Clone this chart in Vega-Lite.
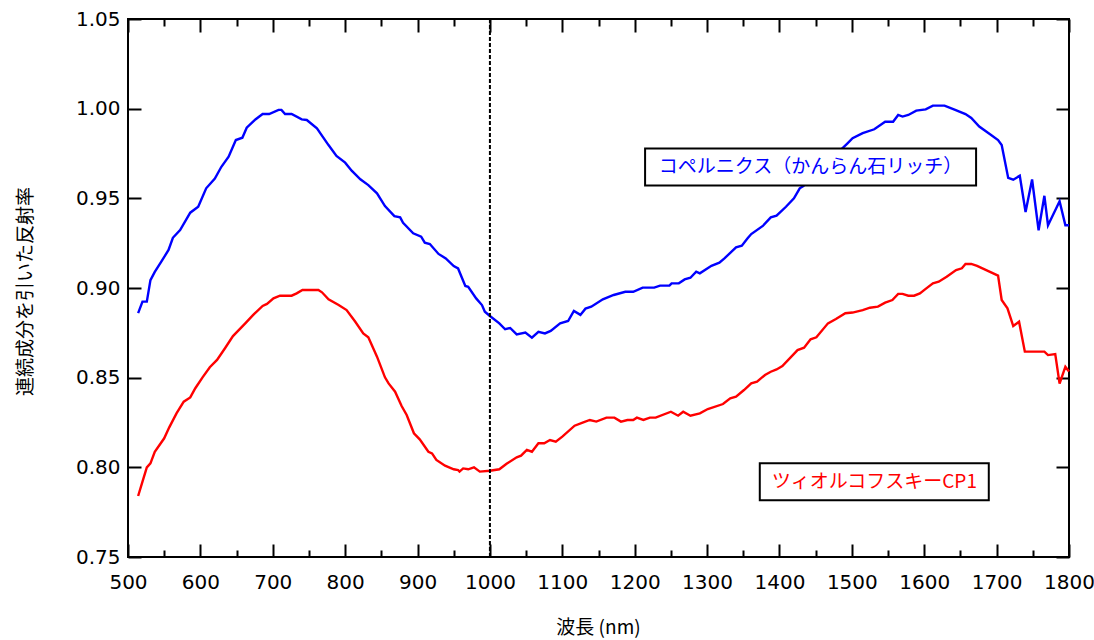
{
  "$schema": "https://vega.github.io/schema/vega-lite/v6.json",
  "width": 941,
  "height": 538,
  "autosize": {"type": "none"},
  "padding": {"left": 128, "top": 19, "right": 25, "bottom": 83},
  "background": "white",
  "config": {
    "view": {"stroke": "black", "strokeWidth": 2},
    "axis": {
      "labelColor": "black", "labelFont": "DejaVu Sans", "labelFontSize": 20,
      "titleFont": "Noto Sans CJK JP", "titleFontSize": 19, "titleFontWeight": "normal", "titleColor": "black",
      "labelFlush": false, "labelOverlap": false, "labelBound": false
    }
  },
  "datasets": {
    "spectra": [
      {"series": "コペルニクス（かんらん石リッチ）", "wl": 514, "r": 0.886},
      {"series": "コペルニクス（かんらん石リッチ）", "wl": 520, "r": 0.8924},
      {"series": "コペルニクス（かんらん石リッチ）", "wl": 526, "r": 0.8924},
      {"series": "コペルニクス（かんらん石リッチ）", "wl": 531, "r": 0.9044},
      {"series": "コペルニクス（かんらん石リッチ）", "wl": 537, "r": 0.909},
      {"series": "コペルニクス（かんらん石リッチ）", "wl": 546, "r": 0.9147},
      {"series": "コペルニクス（かんらん石リッチ）", "wl": 556, "r": 0.9212},
      {"series": "コペルニクス（かんらん石リッチ）", "wl": 562, "r": 0.928},
      {"series": "コペルニクス（かんらん石リッチ）", "wl": 572, "r": 0.9323},
      {"series": "コペルニクス（かんらん石リッチ）", "wl": 586, "r": 0.942},
      {"series": "コペルニクス（かんらん石リッチ）", "wl": 597, "r": 0.9453},
      {"series": "コペルニクス（かんらん石リッチ）", "wl": 608, "r": 0.9556},
      {"series": "コペルニクス（かんらん石リッチ）", "wl": 620, "r": 0.961},
      {"series": "コペルニクス（かんらん石リッチ）", "wl": 629, "r": 0.9676},
      {"series": "コペルニクス（かんらん石リッチ）", "wl": 639, "r": 0.9732},
      {"series": "コペルニクス（かんらん石リッチ）", "wl": 649, "r": 0.9825},
      {"series": "コペルニクス（かんらん石リッチ）", "wl": 658, "r": 0.9838},
      {"series": "コペルニクス（かんらん石リッチ）", "wl": 664, "r": 0.9894},
      {"series": "コペルニクス（かんらん石リッチ）", "wl": 676, "r": 0.994},
      {"series": "コペルニクス（かんらん石リッチ）", "wl": 686, "r": 0.997},
      {"series": "コペルニクス（かんらん石リッチ）", "wl": 695, "r": 0.997},
      {"series": "コペルニクス（かんらん石リッチ）", "wl": 708, "r": 0.9993},
      {"series": "コペルニクス（かんらん石リッチ）", "wl": 712, "r": 0.9993},
      {"series": "コペルニクス（かんらん石リッチ）", "wl": 717, "r": 0.997},
      {"series": "コペルニクス（かんらん石リッチ）", "wl": 726, "r": 0.997},
      {"series": "コペルニクス（かんらん石リッチ）", "wl": 740, "r": 0.994},
      {"series": "コペルニクス（かんらん石リッチ）", "wl": 747, "r": 0.9937},
      {"series": "コペルニクス（かんらん石リッチ）", "wl": 761, "r": 0.989},
      {"series": "コペルニクス（かんらん石リッチ）", "wl": 777, "r": 0.9797},
      {"series": "コペルニクス（かんらん石リッチ）", "wl": 788, "r": 0.9736},
      {"series": "コペルニクス（かんらん石リッチ）", "wl": 800, "r": 0.9699},
      {"series": "コペルニクス（かんらん石リッチ）", "wl": 809, "r": 0.9654},
      {"series": "コペルニクス（かんらん石リッチ）", "wl": 821, "r": 0.9606},
      {"series": "コペルニクス（かんらん石リッチ）", "wl": 832, "r": 0.9574},
      {"series": "コペルニクス（かんらん石リッチ）", "wl": 844, "r": 0.9528},
      {"series": "コペルニクス（かんらん石リッチ）", "wl": 855, "r": 0.9457},
      {"series": "コペルニクス（かんらん石リッチ）", "wl": 868, "r": 0.9401},
      {"series": "コペルニクス（かんらん石リッチ）", "wl": 876, "r": 0.9394},
      {"series": "コペルニクス（かんらん石リッチ）", "wl": 880, "r": 0.9364},
      {"series": "コペルニクス（かんらん石リッチ）", "wl": 894, "r": 0.9305},
      {"series": "コペルニクス（かんらん石リッチ）", "wl": 905, "r": 0.9286},
      {"series": "コペルニクス（かんらん石リッチ）", "wl": 910, "r": 0.9253},
      {"series": "コペルニクス（かんらん石リッチ）", "wl": 917, "r": 0.9245},
      {"series": "コペルニクス（かんらん石リッチ）", "wl": 929, "r": 0.919},
      {"series": "コペルニクス（かんらん石リッチ）", "wl": 939, "r": 0.9165},
      {"series": "コペルニクス（かんらん石リッチ）", "wl": 950, "r": 0.9122},
      {"series": "コペルニクス（かんらん石リッチ）", "wl": 956, "r": 0.9109},
      {"series": "コペルニクス（かんらん石リッチ）", "wl": 966, "r": 0.9011},
      {"series": "コペルニクス（かんらん石リッチ）", "wl": 970, "r": 0.9007},
      {"series": "コペルニクス（かんらん石リッチ）", "wl": 981, "r": 0.8942},
      {"series": "コペルニクス（かんらん石リッチ）", "wl": 989, "r": 0.8905},
      {"series": "コペルニクス（かんらん石リッチ）", "wl": 993, "r": 0.8868},
      {"series": "コペルニクス（かんらん石リッチ）", "wl": 1000, "r": 0.8844},
      {"series": "コペルニクス（かんらん石リッチ）", "wl": 1013, "r": 0.8803},
      {"series": "コペルニクス（かんらん石リッチ）", "wl": 1021, "r": 0.877},
      {"series": "コペルニクス（かんらん石リッチ）", "wl": 1028, "r": 0.8777},
      {"series": "コペルニクス（かんらん石リッチ）", "wl": 1037, "r": 0.8741},
      {"series": "コペルニクス（かんらん石リッチ）", "wl": 1049, "r": 0.8751},
      {"series": "コペルニクス（かんらん石リッチ）", "wl": 1058, "r": 0.8723},
      {"series": "コペルニクス（かんらん石リッチ）", "wl": 1067, "r": 0.8756},
      {"series": "コペルニクス（かんらん石リッチ）", "wl": 1076, "r": 0.8747},
      {"series": "コペルニクス（かんらん石リッチ）", "wl": 1084, "r": 0.8761},
      {"series": "コペルニクス（かんらん石リッチ）", "wl": 1097, "r": 0.8803},
      {"series": "コペルニクス（かんらん石リッチ）", "wl": 1108, "r": 0.8816},
      {"series": "コペルニクス（かんらん石リッチ）", "wl": 1116, "r": 0.8872},
      {"series": "コペルニクス（かんらん石リッチ）", "wl": 1125, "r": 0.885},
      {"series": "コペルニクス（かんらん石リッチ）", "wl": 1132, "r": 0.8885},
      {"series": "コペルニクス（かんらん石リッチ）", "wl": 1140, "r": 0.8896},
      {"series": "コペルニクス（かんらん石リッチ）", "wl": 1156, "r": 0.8937},
      {"series": "コペルニクス（かんらん石リッチ）", "wl": 1171, "r": 0.8961},
      {"series": "コペルニクス（かんらん石リッチ）", "wl": 1187, "r": 0.8979},
      {"series": "コペルニクス（かんらん石リッチ）", "wl": 1198, "r": 0.8979},
      {"series": "コペルニクス（かんらん石リッチ）", "wl": 1211, "r": 0.9002},
      {"series": "コペルニクス（かんらん石リッチ）", "wl": 1227, "r": 0.9002},
      {"series": "コペルニクス（かんらん石リッチ）", "wl": 1235, "r": 0.9013},
      {"series": "コペルニクス（かんらん石リッチ）", "wl": 1248, "r": 0.9013},
      {"series": "コペルニクス（かんらん石リッチ）", "wl": 1251, "r": 0.9026},
      {"series": "コペルニクス（かんらん石リッチ）", "wl": 1261, "r": 0.9026},
      {"series": "コペルニクス（かんらん石リッチ）", "wl": 1269, "r": 0.9048},
      {"series": "コペルニクス（かんらん石リッチ）", "wl": 1277, "r": 0.9057},
      {"series": "コペルニクス（かんらん石リッチ）", "wl": 1285, "r": 0.9091},
      {"series": "コペルニクス（かんらん石リッチ）", "wl": 1290, "r": 0.9082},
      {"series": "コペルニクス（かんらん石リッチ）", "wl": 1306, "r": 0.9124},
      {"series": "コペルニクス（かんらん石リッチ）", "wl": 1317, "r": 0.9141},
      {"series": "コペルニクス（かんらん石リッチ）", "wl": 1324, "r": 0.9165},
      {"series": "コペルニクス（かんらん石リッチ）", "wl": 1340, "r": 0.9227},
      {"series": "コペルニクス（かんらん石リッチ）", "wl": 1348, "r": 0.9236},
      {"series": "コペルニクス（かんらん石リッチ）", "wl": 1356, "r": 0.9277},
      {"series": "コペルニクス（かんらん石リッチ）", "wl": 1361, "r": 0.9301},
      {"series": "コペルニクス（かんらん石リッチ）", "wl": 1377, "r": 0.9346},
      {"series": "コペルニクス（かんらん石リッチ）", "wl": 1388, "r": 0.9394},
      {"series": "コペルニクス（かんらん石リッチ）", "wl": 1396, "r": 0.9403},
      {"series": "コペルニクス（かんらん石リッチ）", "wl": 1409, "r": 0.9453},
      {"series": "コペルニクス（かんらん石リッチ）", "wl": 1420, "r": 0.95},
      {"series": "コペルニクス（かんらん石リッチ）", "wl": 1428, "r": 0.9556},
      {"series": "コペルニクス（かんらん石リッチ）", "wl": 1433, "r": 0.9569},
      {"series": "コペルニクス（かんらん石リッチ）", "wl": 1494, "r": 0.9807},
      {"series": "コペルニクス（かんらん石リッチ）", "wl": 1501, "r": 0.9835},
      {"series": "コペルニクス（かんらん石リッチ）", "wl": 1515, "r": 0.9863},
      {"series": "コペルニクス（かんらん石リッチ）", "wl": 1531, "r": 0.9885},
      {"series": "コペルニクス（かんらん石リッチ）", "wl": 1546, "r": 0.9927},
      {"series": "コペルニクス（かんらん石リッチ）", "wl": 1557, "r": 0.9927},
      {"series": "コペルニクス（かんらん石リッチ）", "wl": 1564, "r": 0.9965},
      {"series": "コペルニクス（かんらん石リッチ）", "wl": 1570, "r": 0.9956},
      {"series": "コペルニクス（かんらん石リッチ）", "wl": 1578, "r": 0.9965},
      {"series": "コペルニクス（かんらん石リッチ）", "wl": 1589, "r": 0.9989},
      {"series": "コペルニクス（かんらん石リッチ）", "wl": 1602, "r": 0.9996},
      {"series": "コペルニクス（かんらん石リッチ）", "wl": 1612, "r": 1.0017},
      {"series": "コペルニクス（かんらん石リッチ）", "wl": 1628, "r": 1.0017},
      {"series": "コペルニクス（かんらん石リッチ）", "wl": 1641, "r": 0.9996},
      {"series": "コペルニクス（かんらん石リッチ）", "wl": 1657, "r": 0.997},
      {"series": "コペルニクス（かんらん石リッチ）", "wl": 1665, "r": 0.9948},
      {"series": "コペルニクス（かんらん石リッチ）", "wl": 1676, "r": 0.99},
      {"series": "コペルニクス（かんらん石リッチ）", "wl": 1689, "r": 0.9863},
      {"series": "コペルニクス（かんらん石リッチ）", "wl": 1702, "r": 0.9825},
      {"series": "コペルニクス（かんらん石リッチ）", "wl": 1707, "r": 0.9797},
      {"series": "コペルニクス（かんらん石リッチ）", "wl": 1716, "r": 0.9614},
      {"series": "コペルニクス（かんらん石リッチ）", "wl": 1723, "r": 0.9604},
      {"series": "コペルニクス（かんらん石リッチ）", "wl": 1732, "r": 0.9626},
      {"series": "コペルニクス（かんらん石リッチ）", "wl": 1740, "r": 0.9424},
      {"series": "コペルニクス（かんらん石リッチ）", "wl": 1749, "r": 0.9605},
      {"series": "コペルニクス（かんらん石リッチ）", "wl": 1758, "r": 0.9322},
      {"series": "コペルニクス（かんらん石リッチ）", "wl": 1766, "r": 0.9514},
      {"series": "コペルニクス（かんらん石リッチ）", "wl": 1771, "r": 0.935},
      {"series": "コペルニクス（かんらん石リッチ）", "wl": 1787, "r": 0.9484},
      {"series": "コペルニクス（かんらん石リッチ）", "wl": 1795, "r": 0.935},
      {"series": "コペルニクス（かんらん石リッチ）", "wl": 1800, "r": 0.935},
      {"series": "ツィオルコフスキーCP1", "wl": 514, "r": 0.784},
      {"series": "ツィオルコフスキーCP1", "wl": 520, "r": 0.792},
      {"series": "ツィオルコフスキーCP1", "wl": 526, "r": 0.8},
      {"series": "ツィオルコフスキーCP1", "wl": 531, "r": 0.8022},
      {"series": "ツィオルコフスキーCP1", "wl": 537, "r": 0.8087},
      {"series": "ツィオルコフスキーCP1", "wl": 550, "r": 0.8162},
      {"series": "ツィオルコフスキーCP1", "wl": 557, "r": 0.8223},
      {"series": "ツィオルコフスキーCP1", "wl": 567, "r": 0.8301},
      {"series": "ツィオルコフスキーCP1", "wl": 577, "r": 0.8366},
      {"series": "ツィオルコフスキーCP1", "wl": 586, "r": 0.839},
      {"series": "ツィオルコフスキーCP1", "wl": 593, "r": 0.8441},
      {"series": "ツィオルコフスキーCP1", "wl": 603, "r": 0.8502},
      {"series": "ツィオルコフスキーCP1", "wl": 613, "r": 0.8558},
      {"series": "ツィオルコフスキーCP1", "wl": 623, "r": 0.8599},
      {"series": "ツィオルコフスキーCP1", "wl": 634, "r": 0.8664},
      {"series": "ツィオルコフスキーCP1", "wl": 645, "r": 0.8732},
      {"series": "ツィオルコフスキーCP1", "wl": 662, "r": 0.8803},
      {"series": "ツィオルコフスキーCP1", "wl": 673, "r": 0.885},
      {"series": "ツィオルコフスキーCP1", "wl": 686, "r": 0.89},
      {"series": "ツィオルコフスキーCP1", "wl": 692, "r": 0.8911},
      {"series": "ツィオルコフスキーCP1", "wl": 701, "r": 0.8942},
      {"series": "ツィオルコフスキーCP1", "wl": 710, "r": 0.8957},
      {"series": "ツィオルコフスキーCP1", "wl": 726, "r": 0.8957},
      {"series": "ツィオルコフスキーCP1", "wl": 733, "r": 0.897},
      {"series": "ツィオルコフスキーCP1", "wl": 741, "r": 0.8989},
      {"series": "ツィオルコフスキーCP1", "wl": 763, "r": 0.8989},
      {"series": "ツィオルコフスキーCP1", "wl": 768, "r": 0.8976},
      {"series": "ツィオルコフスキーCP1", "wl": 777, "r": 0.8937},
      {"series": "ツィオルコフスキーCP1", "wl": 791, "r": 0.8905},
      {"series": "ツィオルコフスキーCP1", "wl": 802, "r": 0.8877},
      {"series": "ツィオルコフスキーCP1", "wl": 814, "r": 0.8812},
      {"series": "ツィオルコフスキーCP1", "wl": 825, "r": 0.8747},
      {"series": "ツィオルコフスキーCP1", "wl": 832, "r": 0.8725},
      {"series": "ツィオルコフスキーCP1", "wl": 844, "r": 0.8617},
      {"series": "ツィオルコフスキーCP1", "wl": 855, "r": 0.8502},
      {"series": "ツィオルコフスキーCP1", "wl": 860, "r": 0.8468},
      {"series": "ツィオルコフスキーCP1", "wl": 869, "r": 0.8422},
      {"series": "ツィオルコフスキーCP1", "wl": 878, "r": 0.8342},
      {"series": "ツィオルコフスキーCP1", "wl": 885, "r": 0.8292},
      {"series": "ツィオルコフスキーCP1", "wl": 895, "r": 0.819},
      {"series": "ツィオルコフスキーCP1", "wl": 903, "r": 0.8156},
      {"series": "ツィオルコフスキーCP1", "wl": 915, "r": 0.8087},
      {"series": "ツィオルコフスキーCP1", "wl": 920, "r": 0.8078},
      {"series": "ツィオルコフスキーCP1", "wl": 926, "r": 0.8041},
      {"series": "ツィオルコフスキーCP1", "wl": 938, "r": 0.8009},
      {"series": "ツィオルコフスキーCP1", "wl": 950, "r": 0.7989},
      {"series": "ツィオルコフスキーCP1", "wl": 956, "r": 0.7985},
      {"series": "ツィオルコフスキーCP1", "wl": 958, "r": 0.7976},
      {"series": "ツィオルコフスキーCP1", "wl": 963, "r": 0.7994},
      {"series": "ツィオルコフスキーCP1", "wl": 970, "r": 0.7989},
      {"series": "ツィオルコフスキーCP1", "wl": 978, "r": 0.8},
      {"series": "ツィオルコフスキーCP1", "wl": 986, "r": 0.7976},
      {"series": "ツィオルコフスキーCP1", "wl": 1000, "r": 0.7981},
      {"series": "ツィオルコフスキーCP1", "wl": 1013, "r": 0.7989},
      {"series": "ツィオルコフスキーCP1", "wl": 1023, "r": 0.802},
      {"series": "ツィオルコフスキーCP1", "wl": 1037, "r": 0.8056},
      {"series": "ツィオルコフスキーCP1", "wl": 1043, "r": 0.8065},
      {"series": "ツィオルコフスキーCP1", "wl": 1051, "r": 0.8097},
      {"series": "ツィオルコフスキーCP1", "wl": 1058, "r": 0.8087},
      {"series": "ツィオルコフスキーCP1", "wl": 1067, "r": 0.8134},
      {"series": "ツィオルコフスキーCP1", "wl": 1075, "r": 0.8134},
      {"series": "ツィオルコフスキーCP1", "wl": 1083, "r": 0.8152},
      {"series": "ツィオルコフスキーCP1", "wl": 1091, "r": 0.8143},
      {"series": "ツィオルコフスキーCP1", "wl": 1100, "r": 0.8171},
      {"series": "ツィオルコフスキーCP1", "wl": 1117, "r": 0.8232},
      {"series": "ツィオルコフスキーCP1", "wl": 1129, "r": 0.8251},
      {"series": "ツィオルコフスキーCP1", "wl": 1138, "r": 0.8264},
      {"series": "ツィオルコフスキーCP1", "wl": 1147, "r": 0.8255},
      {"series": "ツィオルコフスキーCP1", "wl": 1161, "r": 0.8277},
      {"series": "ツィオルコフスキーCP1", "wl": 1172, "r": 0.8277},
      {"series": "ツィオルコフスキーCP1", "wl": 1181, "r": 0.8255},
      {"series": "ツィオルコフスキーCP1", "wl": 1190, "r": 0.8264},
      {"series": "ツィオルコフスキーCP1", "wl": 1198, "r": 0.8264},
      {"series": "ツィオルコフスキーCP1", "wl": 1203, "r": 0.8277},
      {"series": "ツィオルコフスキーCP1", "wl": 1212, "r": 0.8264},
      {"series": "ツィオルコフスキーCP1", "wl": 1221, "r": 0.8277},
      {"series": "ツィオルコフスキーCP1", "wl": 1229, "r": 0.8277},
      {"series": "ツィオルコフスキーCP1", "wl": 1250, "r": 0.831},
      {"series": "ツィオルコフスキーCP1", "wl": 1260, "r": 0.8288},
      {"series": "ツィオルコフスキーCP1", "wl": 1267, "r": 0.831},
      {"series": "ツィオルコフスキーCP1", "wl": 1277, "r": 0.8288},
      {"series": "ツィオルコフスキーCP1", "wl": 1290, "r": 0.8301},
      {"series": "ツィオルコフスキーCP1", "wl": 1301, "r": 0.8325},
      {"series": "ツィオルコフスキーCP1", "wl": 1322, "r": 0.8353},
      {"series": "ツィオルコフスキーCP1", "wl": 1332, "r": 0.8385},
      {"series": "ツィオルコフスキーCP1", "wl": 1340, "r": 0.8394},
      {"series": "ツィオルコフスキーCP1", "wl": 1351, "r": 0.8431},
      {"series": "ツィオルコフスキーCP1", "wl": 1361, "r": 0.8468},
      {"series": "ツィオルコフスキーCP1", "wl": 1369, "r": 0.8478},
      {"series": "ツィオルコフスキーCP1", "wl": 1380, "r": 0.8515},
      {"series": "ツィオルコフスキーCP1", "wl": 1388, "r": 0.8533},
      {"series": "ツィオルコフスキーCP1", "wl": 1396, "r": 0.8546},
      {"series": "ツィオルコフスキーCP1", "wl": 1404, "r": 0.8565},
      {"series": "ツィオルコフスキーCP1", "wl": 1425, "r": 0.8654},
      {"series": "ツィオルコフスキーCP1", "wl": 1434, "r": 0.8667},
      {"series": "ツィオルコフスキーCP1", "wl": 1443, "r": 0.8714},
      {"series": "ツィオルコフスキーCP1", "wl": 1451, "r": 0.8725},
      {"series": "ツィオルコフスキーCP1", "wl": 1467, "r": 0.8803},
      {"series": "ツィオルコフスキーCP1", "wl": 1478, "r": 0.8827},
      {"series": "ツィオルコフスキーCP1", "wl": 1491, "r": 0.8859},
      {"series": "ツィオルコフスキーCP1", "wl": 1501, "r": 0.8863},
      {"series": "ツィオルコフスキーCP1", "wl": 1515, "r": 0.8877},
      {"series": "ツィオルコフスキーCP1", "wl": 1525, "r": 0.889},
      {"series": "ツィオルコフスキーCP1", "wl": 1536, "r": 0.8896},
      {"series": "ツィオルコフスキーCP1", "wl": 1546, "r": 0.8918},
      {"series": "ツィオルコフスキーCP1", "wl": 1556, "r": 0.8933},
      {"series": "ツィオルコフスキーCP1", "wl": 1564, "r": 0.8967},
      {"series": "ツィオルコフスキーCP1", "wl": 1570, "r": 0.8967},
      {"series": "ツィオルコフスキーCP1", "wl": 1578, "r": 0.8957},
      {"series": "ツィオルコフスキーCP1", "wl": 1586, "r": 0.8957},
      {"series": "ツィオルコフスキーCP1", "wl": 1594, "r": 0.897},
      {"series": "ツィオルコフスキーCP1", "wl": 1602, "r": 0.8995},
      {"series": "ツィオルコフスキーCP1", "wl": 1612, "r": 0.9026},
      {"series": "ツィオルコフスキーCP1", "wl": 1620, "r": 0.9035},
      {"series": "ツィオルコフスキーCP1", "wl": 1631, "r": 0.9063},
      {"series": "ツィオルコフスキーCP1", "wl": 1644, "r": 0.91},
      {"series": "ツィオルコフスキーCP1", "wl": 1652, "r": 0.911},
      {"series": "ツィオルコフスキーCP1", "wl": 1657, "r": 0.9134},
      {"series": "ツィオルコフスキーCP1", "wl": 1665, "r": 0.9134},
      {"series": "ツィオルコフスキーCP1", "wl": 1673, "r": 0.9123},
      {"series": "ツィオルコフスキーCP1", "wl": 1702, "r": 0.9069},
      {"series": "ツィオルコフスキーCP1", "wl": 1707, "r": 0.8933},
      {"series": "ツィオルコフスキーCP1", "wl": 1715, "r": 0.8887},
      {"series": "ツィオルコフスキーCP1", "wl": 1723, "r": 0.8788},
      {"series": "ツィオルコフスキーCP1", "wl": 1731, "r": 0.8812},
      {"series": "ツィオルコフスキーCP1", "wl": 1739, "r": 0.8645},
      {"series": "ツィオルコフスキーCP1", "wl": 1766, "r": 0.8645},
      {"series": "ツィオルコフスキーCP1", "wl": 1771, "r": 0.8626},
      {"series": "ツィオルコフスキーCP1", "wl": 1781, "r": 0.8632},
      {"series": "ツィオルコフスキーCP1", "wl": 1787, "r": 0.8467},
      {"series": "ツィオルコフスキーCP1", "wl": 1795, "r": 0.8561},
      {"series": "ツィオルコフスキーCP1", "wl": 1800, "r": 0.8535}
    ],
    "labels": [
      {"series": "コペルニクス（かんらん石リッチ）", "wl": 1443, "r": 0.9675},
      {"series": "ツィオルコフスキーCP1", "wl": 1531, "r": 0.792}
    ]
  },
  "resolve": {"axis": {"x": "independent", "y": "independent"}},
  "layer": [
    {
      "data": {"name": "spectra"},
      "mark": {"type": "line", "strokeWidth": 2.4},
      "encoding": {
        "x": {
          "field": "wl", "type": "quantitative",
          "scale": {"domain": [500, 1800], "nice": false, "zero": false},
          "axis": {
            "orient": "bottom",
            "values": [500, 550, 600, 650, 700, 750, 800, 850, 900, 950, 1000, 1050, 1100, 1150, 1200, 1250, 1300, 1350, 1400, 1450, 1500, 1550, 1600, 1650, 1700, 1750, 1800],
            "format": "d",
            "labelExpr": "datum.value % 100 === 0 ? datum.label : ''",
            "ticks": false, "domain": false,
            "grid": true, "gridColor": "black", "gridWidth": 2, "gridOpacity": 1,
            "gridDash": {"condition": {"test": "datum.value % 100 === 0", "value": [13, 512]}, "value": [7, 524]},
            "labelPadding": 15,
            "title": "波長 (nm)",
            "titleX": 470, "titleY": 70, "titleAlign": "center", "titleBaseline": "middle"
          }
        },
        "y": {
          "field": "r", "type": "quantitative",
          "scale": {"domain": [0.75, 1.05], "nice": false, "zero": false},
          "axis": {
            "orient": "left",
            "offset": -13,
            "values": [0.75, 0.8, 0.85, 0.9, 0.95, 1.0, 1.05],
            "format": ".2f",
            "ticks": true, "tickSize": 13, "tickColor": "black", "tickWidth": 2,
            "domain": false, "grid": false,
            "labelPadding": 8,
            "title": "連続成分を引いた反射率",
            "titleX": -116, "titleY": 272, "titleAngle": -90, "titleAlign": "center", "titleBaseline": "middle"
          }
        },
        "color": {
          "field": "series", "type": "nominal",
          "scale": {"domain": ["コペルニクス（かんらん石リッチ）", "ツィオルコフスキーCP1"], "range": ["#0000ff", "#ff0000"]},
          "legend": null
        }
      }
    },
    {
      "data": {"name": "spectra"},
      "mark": {"type": "point", "opacity": 0},
      "encoding": {
        "x": {"field": "wl", "type": "quantitative", "axis": null},
        "y": {
          "field": "r", "type": "quantitative",
          "axis": {
            "orient": "right", "offset": -13, "title": null, "grid": false, "domain": false,
            "ticks": true, "tickSize": 13, "tickColor": "black", "tickWidth": 2,
            "labelOpacity": 0, "labelFontSize": 7, "labelPadding": 2, "format": ".2f",
            "values": [0.75, 0.8, 0.85, 0.9, 0.95, 1.0, 1.05]
          }
        }
      }
    },
    {
      "data": {"values": [{}]},
      "mark": {"type": "rule", "color": "black", "strokeDash": [4, 2], "strokeWidth": 2},
      "encoding": {"x": {"datum": 1000, "type": "quantitative", "axis": null}}
    },
    {
      "data": {"name": "labels"},
      "transform": [{"filter": "datum.series === 'コペルニクス（かんらん石リッチ）'"}],
      "mark": {"type": "point", "shape": "M-1,-0.1118H1V0.1118H-1Z", "size": 109561, "filled": true, "fill": "white", "stroke": "black", "strokeWidth": 2, "opacity": 1, "fillOpacity": 1, "strokeOpacity": 1},
      "encoding": {
        "x": {"field": "wl", "type": "quantitative", "axis": null},
        "y": {"field": "r", "type": "quantitative", "axis": null}
      }
    },
    {
      "data": {"name": "labels"},
      "transform": [{"filter": "datum.series === 'ツィオルコフスキーCP1'"}],
      "mark": {"type": "point", "shape": "M-1,-0.1616H1V0.1616H-1Z", "size": 52441, "filled": true, "fill": "white", "stroke": "black", "strokeWidth": 2, "opacity": 1, "fillOpacity": 1, "strokeOpacity": 1},
      "encoding": {
        "x": {"field": "wl", "type": "quantitative", "axis": null},
        "y": {"field": "r", "type": "quantitative", "axis": null}
      }
    },
    {
      "data": {"name": "labels"},
      "mark": {"type": "text", "font": "Noto Sans CJK JP", "fontSize": 19, "align": "center", "baseline": "middle"},
      "encoding": {
        "x": {"field": "wl", "type": "quantitative", "axis": null},
        "y": {"field": "r", "type": "quantitative", "axis": null},
        "text": {"field": "series"},
        "color": {"field": "series", "type": "nominal", "legend": null}
      }
    }
  ]
}
